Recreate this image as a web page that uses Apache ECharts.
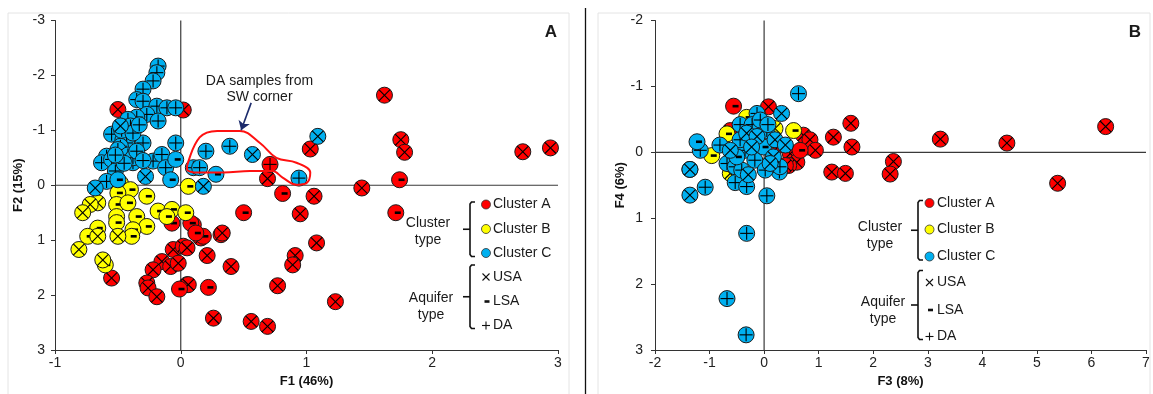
<!DOCTYPE html>
<html>
<head>
<meta charset="utf-8">
<script src="https://cdn.jsdelivr.net/npm/echarts@6/dist/echarts.min.js"></script>
<style>
html, body { margin: 0; padding: 0; background: #fff; }
#chart { width: 1153px; height: 394px; }
</style>
</head>
<body>
<div id="chart"></div>
<script>
// categories
const clusters = ['Cluster A', 'Cluster B', 'Cluster C']
const aquiferTypes = ['USA', 'LSA', 'DA']
const clusterColors = ['#ff0000', '#ffff00', '#00b0f0']

// axis ranges (tick labels run min..max step 1)
const f1Range = [-1, 3]
const f2Range = [-3, 3]
const f3Range = [-2, 7]
const f4Range = [-2, 3]

// panel A: [F1, F2, aquifer]
const f12ClusterA = [
  [-0.50, -1.38, 'USA'], [0.02, -1.37, 'USA'], [0.69, -0.12, 'USA'], [1.06, 0.20, 'USA'], [1.03, -0.66, 'USA'],
  [0.95, 0.52, 'USA'], [0.32, 0.90, 'USA'], [1.08, 1.05, 'USA'], [0.91, 1.28, 'USA'], [0.89, 1.45, 'USA'],
  [0.40, 1.48, 'USA'], [0.21, 1.28, 'USA'], [0.77, 1.83, 'USA'], [1.23, 2.12, 'USA'], [0.05, 1.81, 'USA'],
  [0.26, 2.42, 'USA'], [0.56, 2.48, 'USA'], [0.69, 2.57, 'USA'], [-0.06, 1.17, 'USA'], [0.02, 1.11, 'USA'],
  [0.16, 0.96, 'USA'], [1.62, -1.64, 'USA'], [1.75, -0.83, 'USA'], [1.78, -0.60, 'USA'], [2.72, -0.61, 'USA'],
  [2.94, -0.68, 'USA'], [1.44, 0.05, 'USA'], [0.33, 0.87, 'USA'], [0.05, 1.14, 'USA'], [-0.15, 1.39, 'USA'],
  [-0.08, 1.48, 'USA'], [-0.02, 1.42, 'USA'], [-0.22, 1.54, 'USA'], [-0.27, 1.78, 'USA'], [-0.26, 1.87, 'USA'],
  [-0.19, 2.03, 'USA'], [0.06, 1.81, 'USA'], [-0.55, 1.69, 'USA'],
  [0.71, -0.38, 'DA'],
  [0.81, 0.15, 'LSA'], [0.50, 0.50, 'LSA'], [0.22, 1.86, 'LSA'], [-0.01, 1.89, 'LSA'], [0.18, 0.93, 'LSA'],
  [0.10, 0.72, 'LSA'], [-0.07, 0.69, 'LSA'], [0.08, 0.69, 'LSA'], [0.12, 0.87, 'LSA'], [1.74, -0.10, 'LSA'],
  [1.71, 0.50, 'LSA']
]
const f12ClusterB = [
  [-0.48, -0.04, 'LSA'], [-0.40, 0.08, 'LSA'], [-0.50, 0.14, 'LSA'], [-0.27, 0.20, 'LSA'], [-0.51, 0.35, 'LSA'],
  [-0.42, 0.32, 'LSA'], [-0.51, 0.57, 'LSA'], [-0.35, 0.57, 'LSA'], [-0.27, 0.75, 'LSA'], [-0.18, 0.47, 'LSA'],
  [-0.07, 0.44, 'LSA'], [-0.11, 0.57, 'LSA'], [0.04, 0.50, 'LSA'], [0.06, 0.02, 'LSA'], [-0.66, 0.78, 'LSA'],
  [-0.74, 0.93, 'LSA'], [-0.38, 0.81, 'LSA'], [-0.39, 0.93, 'LSA'], [-0.60, 1.45, 'LSA'], [-0.51, 0.68, 'LSA'],
  [-0.66, 0.32, 'USA'], [-0.72, 0.35, 'USA'], [-0.78, 0.50, 'USA'], [-0.66, 0.93, 'USA'], [-0.50, 0.93, 'USA'],
  [-0.81, 1.17, 'USA'], [-0.62, 1.36, 'USA']
]
const f12ClusterC = [
  [-0.18, -2.17, 'DA'], [-0.19, -2.05, 'DA'], [-0.22, -1.90, 'DA'], [-0.30, -1.75, 'DA'], [-0.35, -1.56, 'DA'],
  [-0.30, -1.53, 'DA'], [-0.19, -1.44, 'DA'], [-0.11, -1.41, 'DA'], [-0.04, -1.41, 'DA'], [-0.27, -1.29, 'DA'],
  [-0.18, -1.17, 'DA'], [-0.35, -1.24, 'DA'], [-0.42, -1.20, 'DA'], [-0.40, -1.08, 'DA'], [-0.55, -0.93, 'DA'],
  [-0.46, -0.83, 'DA'], [-0.43, -0.77, 'DA'], [-0.48, -0.71, 'DA'], [-0.30, -0.77, 'DA'], [-0.04, -0.77, 'DA'],
  [-0.59, -0.53, 'DA'], [-0.63, -0.41, 'DA'], [-0.55, -0.47, 'DA'], [-0.46, -0.47, 'DA'], [-0.40, -0.44, 'DA'],
  [-0.38, -0.41, 'DA'], [-0.22, -0.44, 'DA'], [-0.15, -0.56, 'DA'], [-0.12, -0.32, 'DA'], [-0.52, -0.26, 'DA'],
  [-0.59, -0.07, 'DA'], [0.10, -0.32, 'DA'], [0.15, -0.32, 'DA'], [0.20, -0.62, 'DA'], [0.39, -0.71, 'DA'],
  [0.94, -0.13, 'DA'], [-0.50, -0.65, 'DA'], [-0.42, -0.55, 'DA'], [-0.38, -0.50, 'DA'], [-0.45, -0.40, 'DA'],
  [-0.35, -0.62, 'DA'], [-0.30, -0.45, 'DA'], [-0.52, -0.55, 'DA'], [-0.47, -1.00, 'DA'], [-0.38, -0.95, 'DA'],
  [-0.33, -1.10, 'DA'],
  [-0.04, -0.47, 'LSA'], [-0.08, -0.10, 'LSA'], [-0.50, -0.10, 'LSA'], [0.28, -0.20, 'LSA'],
  [-0.48, -1.08, 'USA'], [-0.28, -0.16, 'USA'], [-0.68, 0.05, 'USA'], [0.18, 0.02, 'USA'], [0.57, -0.56, 'USA'],
  [1.09, -0.89, 'USA']
]

// panel B: [F3, F4, aquifer]
const f34ClusterA = [
  [1.59, -0.44, 'USA'], [1.27, -0.23, 'USA'], [1.61, -0.08, 'USA'], [3.23, -0.20, 'USA'], [4.45, -0.14, 'USA'],
  [6.26, -0.39, 'USA'], [2.37, 0.14, 'USA'], [2.31, 0.33, 'USA'], [1.24, 0.30, 'USA'], [1.49, 0.32, 'USA'],
  [5.38, 0.47, 'USA'], [0.08, -0.69, 'USA'], [0.81, -0.08, 'USA'], [0.72, -0.26, 'USA'], [0.48, 0.02, 'USA'],
  [0.60, 0.15, 'USA'], [0.45, 0.20, 'USA'], [0.84, -0.19, 'USA'], [0.94, -0.03, 'USA'], [0.29, -0.11, 'USA'],
  [0.39, 0.20, 'USA'], [-0.62, -0.33, 'USA'],
  [-0.56, -0.70, 'LSA'], [0.66, -0.03, 'LSA']
]
const f34ClusterB = [
  [-0.68, -0.28, 'LSA'], [-0.32, -0.53, 'LSA'], [0.54, -0.33, 'LSA'], [-0.96, 0.05, 'LSA'], [-0.11, -0.56, 'LSA'],
  [-0.62, 0.32, 'USA'], [0.20, -0.36, 'USA']
]
const f34ClusterC = [
  [0.63, -0.89, 'DA'], [-1.17, -0.03, 'DA'], [-1.08, 0.53, 'DA'], [-0.53, 0.46, 'DA'], [-0.32, 0.52, 'DA'],
  [0.05, 0.66, 'DA'], [-0.32, 1.23, 'DA'], [-0.68, 2.22, 'DA'], [-0.33, 2.77, 'DA'], [0.28, 0.30, 'DA'],
  [-0.13, -0.59, 'DA'], [-0.44, -0.42, 'DA'], [-0.68, 0.17, 'DA'], [-0.53, 0.22, 'DA'], [-0.41, 0.27, 'DA'],
  [0.29, 0.22, 'DA'], [0.05, -0.33, 'DA'], [-0.22, -0.42, 'DA'], [-0.07, -0.49, 'DA'], [0.07, -0.42, 'DA'],
  [-0.35, -0.03, 'DA'], [-0.17, 0.12, 'DA'], [0.02, 0.27, 'DA'], [-0.81, -0.11, 'DA'], [-0.44, -0.19, 'DA'],
  [-1.36, 0.26, 'DA'],
  [-1.23, -0.16, 'LSA'], [-0.50, 0.07, 'LSA'], [-0.01, -0.08, 'LSA'],
  [-1.36, 0.26, 'USA'], [-1.36, 0.65, 'USA'], [0.32, -0.59, 'USA'], [-0.32, -0.29, 'USA'], [-0.13, -0.24, 'USA'],
  [0.17, 0.07, 'USA'], [0.11, 0.17, 'USA'], [-0.23, -0.08, 'USA'], [0.20, -0.19, 'USA'], [0.39, -0.11, 'USA'],
  [-0.62, -0.03, 'USA'], [-0.29, 0.34, 'USA']
]

// red loop around the SW corner DA samples, in F1/F2 units
const daLoop = [
  [0.05, -0.35], [0.15, -0.87], [0.29, -0.99], [0.47, -0.99], [0.63, -0.77], [0.76, -0.50], [0.92, -0.41],
  [1.03, -0.23], [1.00, -0.04], [0.92, -0.01], [0.81, -0.14], [0.73, -0.26], [0.55, -0.26], [0.34, -0.23],
  [0.13, -0.23], [0.05, -0.29], [0.05, -0.35]
]
const daArrow = [[0.56, -1.50], [0.48, -1.00]]

const toItems = (lists) => lists.flatMap((list, ci) =>
  list.map(d => [d[0], d[1], ci, aquiferTypes.indexOf(d[2])]))

const ink = { stroke: '#000', lineWidth: 1.1 }

const drawSample = (params, api) => {
  const [cx, cy] = api.coord([api.value(0), api.value(1)])
  const kind = api.value(3)
  const r = 8
  const kids = [{
    type: 'circle', shape: { cx, cy, r },
    style: { fill: clusterColors[api.value(2)], stroke: '#1a1a1a', lineWidth: 1 }
  }]
  if (kind === 0) {
    const k = 5.6
    kids.push({ type: 'line', shape: { x1: cx - k, y1: cy - k, x2: cx + k, y2: cy + k }, style: ink })
    kids.push({ type: 'line', shape: { x1: cx - k, y1: cy + k, x2: cx + k, y2: cy - k }, style: ink })
  } else if (kind === 1) {
    kids.push({ type: 'rect', shape: { x: cx - 1, y: cy - 1.3, width: 6, height: 2.6 }, style: { fill: '#000' } })
  } else {
    const k = 6.5
    kids.push({ type: 'line', shape: { x1: cx - k, y1: cy, x2: cx + k, y2: cy }, style: ink })
    kids.push({ type: 'line', shape: { x1: cx, y1: cy - k, x2: cx, y2: cy + k }, style: ink })
  }
  return { type: 'group', children: kids }
}

const font = '"Liberation Sans", Arial, sans-serif'
const tickColor = '#222'

const valueAxis = (gi, range, name, gap, extra) => Object.assign({
  type: 'value', gridIndex: gi, min: range[0], max: range[1], interval: 1,
  name, nameLocation: 'middle', nameGap: gap,
  nameTextStyle: { fontFamily: font, fontSize: 13, fontWeight: 'bold', color: '#111' },
  axisLine: { show: true, onZero: false, lineStyle: { color: '#333', width: 1 } },
  axisTick: { show: true, length: 4, lineStyle: { color: '#333' } },
  axisLabel: { fontFamily: font, fontSize: 14, color: tickColor },
  splitLine: { show: false }
}, extra)

const zeroLine = (xi, pts) => ({
  type: 'line', xAxisIndex: xi, yAxisIndex: xi, data: pts, symbol: 'none', silent: true,
  lineStyle: { color: '#3a3a3a', width: 1.2 }, z: 1
})

// legend drawn by hand: bracket + swatches + labels
const txt = (text, x, y, align, size, weight) => ({
  type: 'text', silent: true,
  style: { text, x, y, textAlign: align || 'left', textVerticalAlign: 'middle',
    font: (weight || 'normal') + ' ' + (size || 14) + 'px ' + font, fill: '#1a1a1a' }
})
const bracket = (bx, top, bot) => {
  const mid = (top + bot) / 2
  return [
    { type: 'polyline', silent: true, shape: { points: [[bx + 5, top], [bx + 1.5, top], [bx, top + 2], [bx, bot - 2], [bx + 1.5, bot], [bx + 5, bot]] },
      style: { stroke: '#111', lineWidth: 1.6, fill: null } },
    { type: 'line', silent: true, shape: { x1: bx - 7, y1: mid, x2: bx, y2: mid }, style: { stroke: '#111', lineWidth: 1.6 } }
  ]
}
const legendBlock = (o) => {
  const els = []
  els.push(...bracket(o.bx, o.cRows[0] - 2.5, o.cRows[2] + 3.5))
  els.push(...bracket(o.bx, o.aRows[0] - 12, o.aRows[2] + 3))
  clusters.forEach((c, i) => {
    els.push({ type: 'circle', silent: true, shape: { cx: o.sx, cy: o.cRows[i], r: 4.5 },
      style: { fill: clusterColors[i], stroke: '#333', lineWidth: 0.8 } })
    els.push(txt(c, o.tx, o.cRows[i]))
  })
  const y0 = o.aRows[0], y1 = o.aRows[1], y2 = o.aRows[2], s = o.sx
  els.push({ type: 'line', silent: true, shape: { x1: s - 3.5, y1: y0 - 3.5, x2: s + 3.5, y2: y0 + 3.5 }, style: { stroke: '#111', lineWidth: 1.1 } })
  els.push({ type: 'line', silent: true, shape: { x1: s - 3.5, y1: y0 + 3.5, x2: s + 3.5, y2: y0 - 3.5 }, style: { stroke: '#111', lineWidth: 1.1 } })
  els.push({ type: 'rect', silent: true, shape: { x: s - 1.5, y: y1 - 1.3, width: 5, height: 2.6 }, style: { fill: '#111' } })
  els.push({ type: 'line', silent: true, shape: { x1: s - 4, y1: y2, x2: s + 4, y2: y2 }, style: { stroke: '#111', lineWidth: 1.1 } })
  els.push({ type: 'line', silent: true, shape: { x1: s, y1: y2 - 4, x2: s, y2: y2 + 4 }, style: { stroke: '#111', lineWidth: 1.1 } })
  aquiferTypes.forEach((a, i) => els.push(txt(a, o.tx, o.aRows[i])))
  els.push(txt('Cluster', o.lx, o.cly, 'center'))
  els.push(txt('type', o.lx, o.cly + 17, 'center'))
  els.push(txt('Aquifer', o.lx + 3, o.aly, 'center'))
  els.push(txt('type', o.lx + 3, o.aly + 17, 'center'))
  return els
}

const chart = echarts.init(document.getElementById('chart'))

const option = {
  backgroundColor: '#fff',
  animation: false,
  grid: [
    { left: 55, right: 1153 - 558, top: 20.5, bottom: 394 - 350 },
    { left: 655, right: 1153 - 1146, top: 20.5, bottom: 394 - 350 }
  ],
  xAxis: [
    valueAxis(0, f1Range, 'F1 (46%)', 25, { axisLabel: { fontFamily: font, fontSize: 14, color: tickColor, margin: 6 } }),
    valueAxis(1, f3Range, 'F3 (8%)', 25, { axisLabel: { fontFamily: font, fontSize: 14, color: tickColor, margin: 6 } })
  ],
  yAxis: [
    valueAxis(0, f2Range, 'F2 (15%)', 30, { inverse: true, axisLabel: { fontFamily: font, fontSize: 14, color: tickColor, margin: 10 } }),
    valueAxis(1, f4Range, 'F4 (6%)', 26, { inverse: true, axisLabel: { fontFamily: font, fontSize: 14, color: tickColor, margin: 12 } })
  ],
  series: [
    zeroLine(0, [[0, f2Range[0]], [0, f2Range[1]]]),
    zeroLine(0, [[f1Range[0], 0], [f1Range[1], 0]]),
    zeroLine(1, [[0, f4Range[0]], [0, f4Range[1]]]),
    zeroLine(1, [[f3Range[0], 0], [f3Range[1], 0]]),
    {
      type: 'custom', xAxisIndex: 0, yAxisIndex: 0, z: 3,
      data: toItems([f12ClusterA, f12ClusterB, f12ClusterC]),
      encode: { x: 0, y: 1 }, renderItem: drawSample, silent: true
    },
    {
      type: 'custom', xAxisIndex: 1, yAxisIndex: 1, z: 3,
      data: toItems([f34ClusterA, f34ClusterB, f34ClusterC]),
      encode: { x: 0, y: 1 }, renderItem: drawSample, silent: true
    },
    {
      type: 'line', xAxisIndex: 0, yAxisIndex: 0, z: 4, data: daLoop, smooth: 0.4,
      symbol: 'none', silent: true, lineStyle: { color: '#ff1010', width: 2 },
      markLine: {
        silent: true, symbol: ['none', 'arrow'], symbolSize: 9,
        label: { show: false },
        lineStyle: { color: '#1b2a6b', width: 1.6, type: 'solid' },
        data: [[{ coord: daArrow[0] }, { coord: daArrow[1] }]]
      }
    }
  ],
  graphic: [
    { type: 'rect', silent: true, shape: { x: 8, y: 13, width: 561, height: 390 }, style: { fill: null, stroke: '#e4e4e4', lineWidth: 1 }, z: -1 },
    { type: 'rect', silent: true, shape: { x: 598, y: 13, width: 552, height: 390 }, style: { fill: null, stroke: '#e4e4e4', lineWidth: 1 }, z: -1 },
    { type: 'line', silent: true, shape: { x1: 585.5, y1: 8, x2: 585.5, y2: 394 }, style: { stroke: '#111', lineWidth: 1.3 } },
    txt('A', 551, 32, 'center', 17, 'bold'),
    txt('B', 1135, 32, 'center', 17, 'bold'),
    txt('DA samples from', 259.5, 81, 'center'),
    txt('SW corner', 259.5, 97.5, 'center'),
    ...legendBlock({ bx: 470, sx: 486, tx: 493, cRows: [204.5, 229, 253], aRows: [277, 301.5, 325.5], lx: 428, cly: 223, aly: 298 }),
    ...legendBlock({ bx: 918, sx: 929.5, tx: 937, cRows: [203, 229.5, 256.5], aRows: [282.5, 310, 336.5], lx: 880, cly: 227.5, aly: 302 })
  ]
}

chart.setOption(option)
</script>
</body>
</html>
